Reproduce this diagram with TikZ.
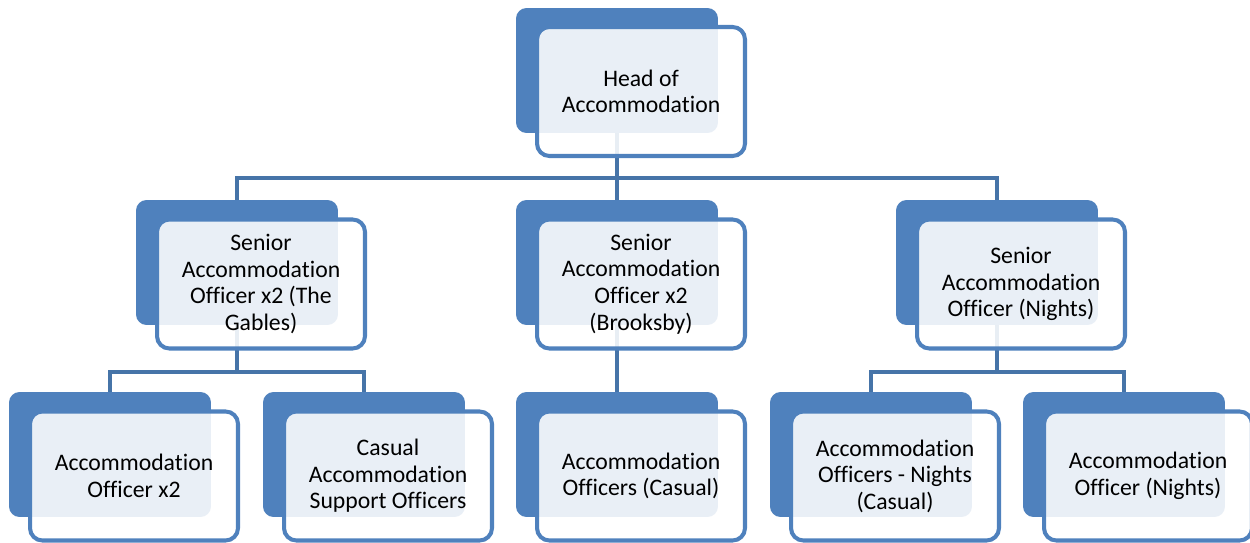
\documentclass[tikz,border=0pt]{standalone}
\usepackage{fontspec}
\setmainfont{Carlito}[Ligatures=NoCommon]
\usepackage{xcolor}
\usepackage{tikz}

\definecolor{boxblue}{HTML}{4F81BD}
\definecolor{linkblue}{HTML}{4674A8}

\begin{document}
\begin{tikzpicture}[x=0.02cm, y=-0.02cm,
  back/.style={rectangle, rounded corners=6pt, fill=boxblue, draw=none,
    minimum width=4.04cm, minimum height=2.5cm, inner sep=0pt},
  front/.style={rectangle, rounded corners=7pt, draw=boxblue, line width=2.3pt,
    fill=white, fill opacity=0.88, text opacity=1,
    minimum width=4.16cm, minimum height=2.58cm, inner sep=0pt,
    align=center, font=\fontsize{13.5}{15.1}\selectfont},
  link/.style={draw=linkblue, line width=2.6pt}]
  \useasboundingbox (0,0) rectangle (1250,543);

  % back boxes
  \node[back] (headback) at (617,70.5) {};
  \node[back] (gablesback) at (237,262.5) {};
  \node[back] (brooksback) at (617,262.5) {};
  \node[back] (nightsback) at (997,262.5) {};
  \node[back] (officerback) at (110,454.5) {};
  \node[back] (casualback) at (364,454.5) {};
  \node[back] (brcasualback) at (617,454.5) {};
  \node[back] (ncasualback) at (871,454.5) {};
  \node[back] (nofficerback) at (1124,454.5) {};

  \coordinate (topbar) at (617,178);
  \coordinate (leftbar) at (237,372);
  \coordinate (rightbar) at (997,372);

  % connectors
  \draw[link] (headback.south) -- (brooksback.north);
  \draw[link] (gablesback.north) |- (nightsback.north |- topbar) -- (nightsback.north);
  \draw[link] (gablesback.south) -- (leftbar);
  \draw[link] (officerback.north) |- (casualback.north |- leftbar) -- (casualback.north);
  \draw[link] (brooksback.south) -- (brcasualback.north);
  \draw[link] (nightsback.south) -- (rightbar);
  \draw[link] (ncasualback.north) |- (nofficerback.north |- rightbar) -- (nofficerback.north);

  % front boxes
  \node[front] (head) at (641,91.5) {Head of\\Accommodation};
  \node[front] (gables) at (261,284) {Senior\\Accommodation\\Officer x2 (The\\Gables)};
  \node[front] (brooks) at (641,284) {Senior\\Accommodation\\Officer x2\\(Brooksby)};
  \node[front] (nights) at (1021,284) {Senior\\Accommodation\\Officer (Nights)};
  \node[front] (officer) at (134,476) {Accommodation\\Officer x2};
  \node[front] (casual) at (388,476) {Casual\\Accommodation\\Support Officers};
  \node[front] (brcasual) at (641,476) {Accommodation\\Officers (Casual)};
  \node[front] (ncasual) at (895,476) {Accommodation\\Officers - Nights\\(Casual)};
  \node[front] (nofficer) at (1148,476) {Accommodation\\Officer (Nights)};
\end{tikzpicture}
\end{document}
